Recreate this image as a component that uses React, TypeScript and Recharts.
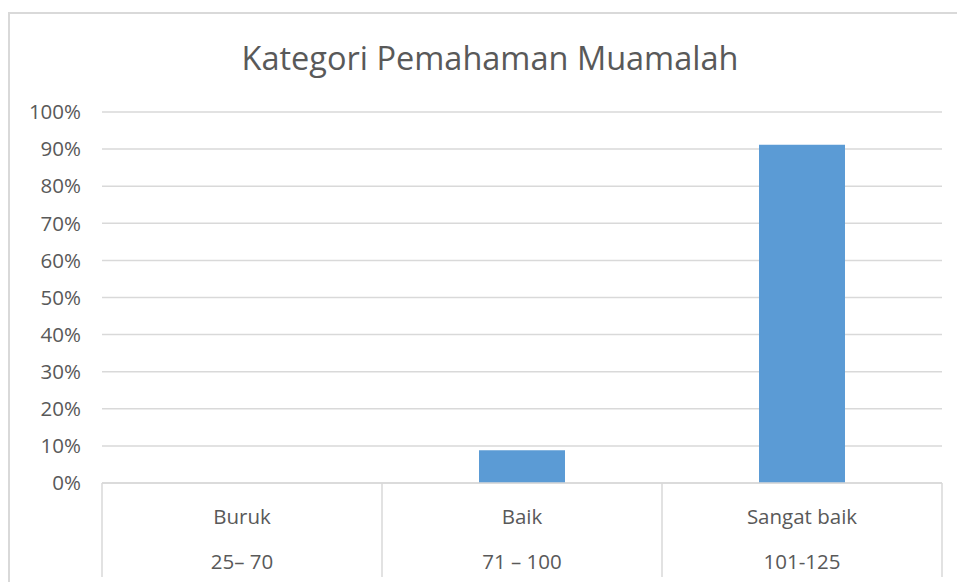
import { Bar, BarChart, CartesianGrid, XAxis, YAxis } from 'recharts';

const categories = ['Buruk', 'Baik', 'Sangat baik'];
const ranges = ['25\u2013 70', '71 \u2013 100', '101-125'];
const percentages = [0, 8.8, 91.2];
const yTicks = [0, 10, 20, 30, 40, 50, 60, 70, 80, 90, 100];

const chartData = categories.map((name, i) => ({
  name,
  range: ranges[i],
  value: percentages[i],
}));

const FONT = '"Open Sans", "Liberation Sans", sans-serif';
const TEXT = '#595959';
const LINE = '#d9d9d9';

const CategoryTick = (props: any) => {
  const { x, y, payload, index, visibleTicksCount } = props;
  const half = payload.offset || 140;
  const row = chartData[index] || { name: payload.value, range: '' };
  return (
    <g>
      <line x1={x - half} x2={x - half} y1={y} y2={y + 94} stroke={LINE} strokeWidth={1.5} />
      {index === visibleTicksCount - 1 && (
        <line x1={x + half} x2={x + half} y1={y} y2={y + 94} stroke={LINE} strokeWidth={1.5} />
      )}
      <text x={x} y={y + 41} textAnchor="middle" fill={TEXT} fontSize={20.5} fontFamily={FONT}>
        {row.name}
      </text>
      <text x={x} y={y + 86} textAnchor="middle" fill={TEXT} fontSize={20.5} fontFamily={FONT}>
        {row.range}
      </text>
    </g>
  );
};

export default function App() {
  return (
    <div style={{ position: 'absolute', left: 0, top: 0, width: 957, height: 582, background: '#fff', overflow: 'hidden' }}>
      <div
        style={{
          position: 'absolute',
          left: 8,
          top: 12,
          width: 960,
          height: 580,
          borderTop: `2px solid ${LINE}`,
          borderLeft: `2px solid ${LINE}`,
        }}
      />
      <div
        style={{
          position: 'absolute',
          left: 0,
          top: 35,
          width: 980,
          textAlign: 'center',
          fontFamily: FONT,
          fontSize: 32.5,
          color: TEXT,
        }}
      >
        Kategori Pemahaman Muamalah
      </div>
      <div style={{ position: 'absolute', left: 0, top: 0 }}>
        <BarChart
          width={957}
          height={582}
          data={chartData}
          margin={{ top: 112, right: 15, bottom: 0, left: 22 }}
        >
          <CartesianGrid vertical={false} stroke={LINE} strokeWidth={1.5} />
          <XAxis
            dataKey="name"
            height={99}
            tickLine={false}
            tickSize={0}
            tickMargin={0}
            axisLine={{ stroke: LINE, strokeWidth: 1.5 }}
            tick={<CategoryTick />}
            interval={0}
          />
          <YAxis
            width={80}
            domain={[0, 100]}
            ticks={yTicks}
            tickFormatter={(v: number) => `${v}%`}
            axisLine={false}
            tickLine={false}
            tickSize={0}
            tickMargin={21}
            tick={{ fill: TEXT, fontSize: 20.5, fontFamily: FONT }}
          />
          <Bar dataKey="value" fill="#5b9bd5" barSize={86} isAnimationActive={false} />
        </BarChart>
      </div>
    </div>
  );
}
